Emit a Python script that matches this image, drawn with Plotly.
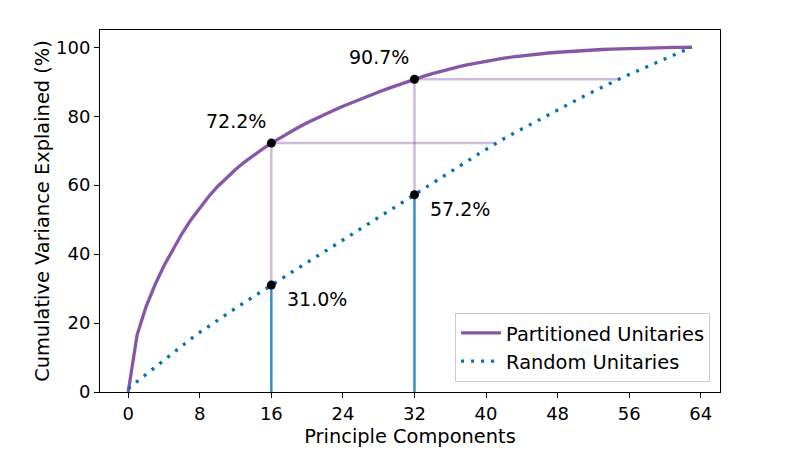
import numpy as np
import plotly.graph_objects as go

components = list(range(64))

partitioned = [
    0.0, 16.6, 24.8, 31.1, 36.6, 41.5, 45.9, 49.9, 53.5, 56.7,
    59.6, 62.2, 64.55, 66.7, 68.65, 70.45, 72.2, 73.8, 75.3, 76.72,
    78.07, 79.35, 80.57, 81.74, 82.86, 83.96, 85.02, 86.04, 87.03, 87.99,
    88.92, 89.82, 90.7, 91.56, 92.35, 93.08, 93.75, 94.37, 94.94, 95.47,
    95.96, 96.41, 96.82, 97.19, 97.52, 97.82, 98.09, 98.33, 98.55, 98.75,
    98.93, 99.09, 99.23, 99.35, 99.46, 99.56, 99.65, 99.73, 99.80, 99.86,
    99.91, 99.95, 99.98, 100.0,
]

random_u = [
    1.0, 3.1, 5.2, 7.3, 9.4, 11.4, 13.4, 15.4, 17.3, 19.1,
    20.9, 22.6, 24.3, 26.0, 27.6, 29.3, 31.0, 32.6, 34.3, 35.9,
    37.5, 39.2, 40.8, 42.4, 44.1, 45.7, 47.4, 49.0, 50.6, 52.3,
    53.9, 55.6, 57.2, 58.9, 60.5, 62.2, 63.8, 65.5, 67.1, 68.8,
    70.4, 72.0, 73.5, 74.9, 76.3, 77.7, 79.1, 80.5, 81.9, 83.2,
    84.6, 85.9, 87.2, 88.5, 89.7, 90.9, 92.1, 93.2, 94.3, 95.4,
    96.5, 97.6, 98.8, 100.0,
]

highlight = [16, 32]

x_ticks = [0, 8, 16, 24, 32, 40, 48, 56, 64]
y_ticks = [0, 20, 40, 60, 80, 100]

PURPLE = "#8856a7"
LIGHT_PURPLE = "rgba(136,86,167,0.4)"
BLUE = "#0072b2"
BLUE_SOFT = "rgba(0,114,178,0.8)"
FONT = "DejaVu Sans"

fig = go.Figure()

# guide lines
for k in highlight:
    p = partitioned[k]
    r = random_u[k]
    xr = float(np.interp(p, random_u, components))
    fig.add_trace(go.Scatter(x=[k, k], y=[r, p], mode="lines",
                             line=dict(color=LIGHT_PURPLE, width=2.5),
                             showlegend=False, hoverinfo="skip"))
    fig.add_trace(go.Scatter(x=[k, xr], y=[p, p], mode="lines",
                             line=dict(color=LIGHT_PURPLE, width=2.5),
                             showlegend=False, hoverinfo="skip"))
    fig.add_trace(go.Scatter(x=[k, k], y=[0, r], mode="lines",
                             line=dict(color=BLUE_SOFT, width=2.5),
                             showlegend=False, hoverinfo="skip"))

fig.add_trace(go.Scatter(x=components, y=partitioned, mode="lines",
                         name="Partitioned Unitaries",
                         line=dict(color=PURPLE, width=3.3)))
fig.add_trace(go.Scatter(x=components, y=random_u, mode="lines",
                         name="Random Unitaries",
                         line=dict(color=BLUE, width=3.3, dash="3px,7px")))

# black points
px = [k for k in highlight] * 2
py = [partitioned[k] for k in highlight] + [random_u[k] for k in highlight]
fig.add_trace(go.Scatter(x=px, y=py, mode="markers",
                         marker=dict(color="black", size=9),
                         showlegend=False, hoverinfo="skip"))

shifts_part = (-35, 22)
shifts_rand = (46, -14)
for k in highlight:
    fig.add_annotation(x=k, y=partitioned[k], text=f"{partitioned[k]:.1f}%",
                       showarrow=False, xshift=shifts_part[0], yshift=shifts_part[1],
                       font=dict(family=FONT, size=19, color="black"))
    fig.add_annotation(x=k, y=random_u[k], text=f"{random_u[k]:.1f}%",
                       showarrow=False, xshift=shifts_rand[0], yshift=shifts_rand[1],
                       font=dict(family=FONT, size=19, color="black"))

axis_common = dict(showgrid=False, zeroline=False, showline=True, mirror=True,
                   linecolor="black", linewidth=1, ticks="outside", ticklen=5,
                   tickcolor="black", automargin=False,
                   tickfont=dict(family=FONT, size=18, color="black"))

fig.update_xaxes(range=[-3.15, 66.15], tickvals=x_ticks,
                 title=dict(text="Principle Components",
                            font=dict(family=FONT, size=19.4, color="black"),
                            standoff=6),
                 **axis_common)
fig.update_yaxes(range=[0, 105], tickvals=y_ticks,
                 title=dict(text="Cumulative Variance Explained (%)",
                            font=dict(family=FONT, size=19.4, color="black"),
                            standoff=1),
                 **axis_common)

fig.update_layout(
    width=800, height=450,
    margin=dict(l=92, r=88, t=22, b=66),
    plot_bgcolor="white", paper_bgcolor="white",
    font=dict(family=FONT, color="black"),
    legend=dict(x=0.984, y=0.028, xanchor="right", yanchor="bottom",
                bgcolor="rgba(255,255,255,0.8)", bordercolor="#cccccc", borderwidth=1,
                font=dict(family=FONT, size=19.4, color="black"),
                tracegroupgap=2, itemwidth=40),
)

fig.write_html("out.html")
